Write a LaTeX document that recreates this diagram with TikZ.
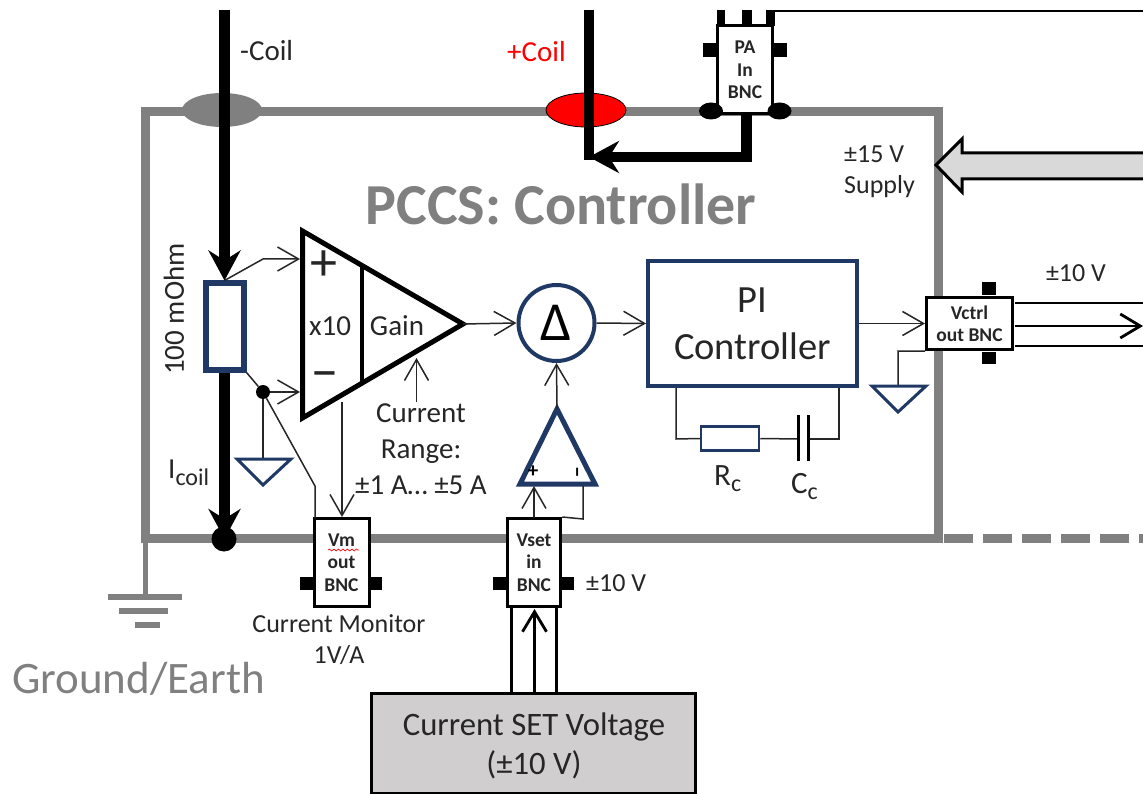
\documentclass[tikz,border=0pt]{standalone}
\usepackage{fontspec}
\setmainfont{Carlito}
\usetikzlibrary{arrows.meta, positioning, calc, shapes.geometric, decorations.pathmorphing}
\definecolor{framegray}{RGB}{128, 128, 128}
\definecolor{navyline}{RGB}{31, 56, 100}
\definecolor{txtdark}{RGB}{38, 38, 38}
\definecolor{setgray}{RGB}{208, 206, 206}
\definecolor{supplygray}{RGB}{217, 217, 217}
\newcommand{\fsz}[2]{\fontsize{#1}{#2}\selectfont}
\tikzset{
  lbl/.style={inner sep=0pt, text=txtdark, font=\fsz{29}{36}, align=center},
  bncbox/.style={draw=black, fill=white, line width=3pt, inner sep=0pt, text=txtdark, align=center, font=\fsz{19.5}{22.5}\bfseries},
  bnctab/.style={fill=black, inner sep=0pt},
  sensewire/.style={line width=1.5pt, draw=txtdark},
  sensearrow/.style={sensewire, -{Straight Barb[length=21pt,width=24pt]}},
  coilwire/.style={line width=10.5pt, draw=black},
  coilarrow/.style={coilwire, -{Stealth[length=30pt,width=32pt,inset=10pt]}},
  bncline/.style={line width=2.8pt, draw=black},
  navybox/.style={draw=navyline, fill=white, inner sep=0pt},
  gndtri/.style={draw=navyline, line width=3pt, fill=white, miter limit=20},
  dot/.style={circle, fill=black, inner sep=0pt},
}
\begin{document}
\begin{tikzpicture}[x=1pt, y=-1pt]
  \useasboundingbox (0,0) rectangle (1143,794);

  % Frame and earth
  \node[draw=framegray, line width=9pt, minimum width=792.5pt, minimum height=427pt, inner sep=0pt] (frame) at (541.75,325) {};
  \coordinate (dashA) at (944,538.5);
  \coordinate (dashB) at (1143,538.5);
  \draw[draw=framegray, line width=9pt, dash pattern=on 29pt off 10pt] (dashA) -- (dashB);
  \coordinate (earthA) at (145.5,540);
  \coordinate (earthB) at (145.5,597);
  \draw[draw=framegray, line width=5pt] (earthA) -- (earthB);
  \node[fill=framegray, minimum width=74pt, minimum height=6pt, inner sep=0pt] (earth1) at (145,597) {};
  \node[fill=framegray, minimum width=49pt, minimum height=6pt, inner sep=0pt] (earth2) at (143.5,611) {};
  \node[fill=framegray, minimum width=25pt, minimum height=6pt, inner sep=0pt] (earth3) at (147,625) {};
  \node[lbl, text=framegray, font=\fsz{45}{50}] (earthlbl) at (138.5,679) {Ground/Earth};

  % Title
  \node[lbl, text=framegray, font=\fsz{58}{64}\bfseries] (title) at (561,204) {PCCS: Controller};

  % Coil feedthroughs
  \node[ellipse, fill=framegray, minimum width=80pt, minimum height=34pt, inner sep=0pt] (feedneg) at (222,110) {};
  \node[ellipse, draw=black, line width=.8pt, fill=red, minimum width=80pt, minimum height=34pt, inner sep=0pt] (feedpos) at (586,110) {};
  \node[lbl, anchor=west] (coilneg) at (240,51) {-Coil};
  \node[lbl, anchor=west, text=red] (coilpos) at (507,52) {+Coil};

  % Shunt and -Coil wire
  \node[navybox, line width=6pt, minimum width=38pt, minimum height=86pt] (shunt) at (224.5,326.5) {};
  \node[lbl, rotate=90] (shuntlbl) at (174,309) {100 mOhm};
  \coordinate (negtop) at (224.5,10);
  \coordinate (negbot) at (224.5,539);
  \draw[coilarrow] (negtop) -- (shunt.north);
  \draw[coilarrow] (shunt.south) -- (negbot);
  \node[dot, minimum size=25pt] (gnddot) at (224,539) {};
  \node[lbl, anchor=base west] (icoil) at (168,478) {I\raisebox{-7.5pt}{\fsz{24}{24}coil}};

  % PA input
  \node[bncbox, minimum width=55pt, minimum height=88pt] (pabox) at (745,70) {PA\\In\\BNC};
  \node[bnctab, minimum width=13pt, minimum height=14pt, anchor=east] (patabL) at (pabox.west |- 0,50) {};
  \node[bnctab, minimum width=13pt, minimum height=14pt, anchor=west] (patabR) at (pabox.east |- 0,50) {};
  \node[bnctab, minimum width=8pt, minimum height=16pt] (patop1) at (721,18) {};
  \node[bnctab, minimum width=10pt, minimum height=16pt] (patop2) at (747,18) {};
  \node[bnctab, minimum width=9pt, minimum height=16pt] (patop3) at (770.5,18) {};
  \node[ellipse, fill=black, minimum width=24pt, minimum height=17pt, inner sep=0pt] (padotL) at (711,111) {};
  \node[ellipse, fill=black, minimum width=24pt, minimum height=17pt, inner sep=0pt] (padotR) at (779.5,111) {};
  \coordinate (patopR) at (772,11);
  \coordinate (paright) at (1143,11);
  \draw[line width=1.8pt] (patopR) -- (paright);

  % +Coil wire
  \coordinate (postop) at (589,10);
  \coordinate (posend) at (589,160);
  \coordinate (posjoin) at (589,157);
  \coordinate (pacorner) at (746.5,157);
  \coordinate (pafoot) at (746.5,115);
  \coordinate (pabend) at (746.5,162);
  \draw[coilwire] (postop) -- (posend);
  \draw[coilwire] (pafoot) -- (pabend);
  \draw[coilarrow] (pacorner) -- (posjoin);

  % Supply arrow
  \coordinate (suptip) at (936,165);
  \draw[line width=3pt, fill=supplygray, miter limit=10] (1143,153) -- (962,153) -- (962,139) -- (suptip) -- (962,192) -- (962,179) -- (1143,179);
  \node[lbl, anchor=west, align=left, font=\fsz{26}{31}] (suplbl) at (844,172) {±15 V\\Supply};

  % Current amplifier
  \coordinate (ampA) at (302.5,231);
  \coordinate (ampB) at (302.5,418);
  \coordinate (amptip) at (463,324);
  \draw[line width=5pt, fill=white, line join=miter] (ampA) -- (amptip) -- (ampB) -- cycle;
  \coordinate (ampdivA) at (362,264);
  \coordinate (ampdivB) at (362,385);
  \draw[line width=3.5pt] (ampdivA) -- (ampdivB);
  \node[lbl, font=\fsz{54}{54}] (ampplus) at (323.5,266) {+};
  \node[lbl, font=\fsz{54}{54}] (ampminus) at (325,381) {−};
  \node[lbl] (ampx) at (330,326) {x10};
  \node[lbl] (ampgain) at (397,326) {Gain};
  \coordinate (ampinP) at (300,259);
  \coordinate (ampinN) at (300,392);
  \coordinate (kneeP) at (263,259);
  \coordinate (ampfoot) at (342,402);
  \coordinate (rngA) at (416.5,402);
  \coordinate (rngB) at (416.5,358);
  \node[lbl] (rnglbl) at (421,449) {Current\\Range:\\±1 A… ±5 A};
  \draw[sensearrow] (rngA) -- (rngB);

  % Sense taps
  \node[dot, minimum size=14pt] (tap) at (263,392) {};
  \draw[sensearrow] (shunt.north) -- (kneeP) -- (ampinP);
  \draw[sensewire] (shunt.south east) -- (tap);
  \draw[sensearrow] (tap) -- (ampinN);
  \coordinate (gndA) at (263,459);
  \coordinate (gndL) at (237,459);
  \coordinate (gndR) at (291,459);
  \coordinate (gndT) at (263,485);
  \draw[sensewire] (tap) -- (gndA);
  \draw[gndtri] (gndL) -- (gndR) -- (gndT) -- cycle;

  % Vm BNC
  \node[bncbox, minimum width=55pt, minimum height=88pt] (vmbox) at (341.5,562.5) {Vm\\out\\BNC};
  \node[bnctab, minimum width=13pt, minimum height=13pt, anchor=east] (vmtabL) at (313,583.5) {};
  \node[bnctab, minimum width=12pt, minimum height=13pt, anchor=west] (vmtabR) at (370,583.5) {};
  \coordinate (sqA) at (328,550);
  \coordinate (sqB) at (359,550);
  \draw[red, line width=.7pt, decorate, decoration={snake, amplitude=.9pt, segment length=4.5pt}] (sqA) -- (sqB);
  \coordinate (vmknee) at (315,486);
  \coordinate (vmin) at (315,518);
  \coordinate (vmtop) at (342,517);
  \draw[sensewire] (tap) -- (vmknee) -- (vmin);
  \draw[sensearrow] (ampfoot) -- (vmtop);
  \node[lbl, font=\fsz{26}{31}] (monlbl) at (339,640) {Current Monitor\\1V/A};

  % Delta and buffer
  \node[circle, navybox, line width=4pt, minimum size=76pt] (delta) at (556.5,323) {\fsz{55}{55}Δ};
  \draw[sensearrow] (amptip) -- (delta.west);
  \coordinate (bufA) at (557,409);
  \coordinate (bufL) at (520,484);
  \coordinate (bufR) at (595,484);
  \draw[navyline, line width=5pt, fill=white, line join=miter] (bufA) -- (bufR) -- (bufL) -- cycle;
  \draw[sensearrow] (bufA) -- (delta.south);
  \node[lbl, text=black, font=\fsz{21}{21}\bfseries] (bufplus) at (533,472) {+};
  \node[lbl, text=black, rotate=90, font=\fsz{21}{21}\bfseries] (bufminus) at (580,472) {−};

  % Vset BNC
  \node[bncbox, minimum width=53.5pt, minimum height=88pt] (vsetbox) at (534,562.5) {Vset\\in\\BNC};
  \node[bnctab, minimum width=13pt, minimum height=13pt, anchor=east] (vsettabL) at (506,583.5) {};
  \node[bnctab, minimum width=12pt, minimum height=13pt, anchor=west] (vsettabR) at (562,583.5) {};
  \node[lbl, anchor=west, font=\fsz{26}{31}] (vsetlbl) at (586,583) {±10 V};
  \coordinate (vsettopL) at (534,518);
  \coordinate (bufinP) at (534,486);
  \coordinate (vsetR) at (583,519);
  \coordinate (bufinN) at (583,486);
  \draw[sensearrow] (vsettopL) -- (bufinP);
  \draw[sensewire] (vsetbox.north east) -- (vsetR) -- (bufinN);

  % Current SET source
  \node[draw=black, fill=setgray, line width=3pt, minimum width=324pt, minimum height=100pt, inner sep=0pt, anchor=north west] (setbox) at (370,692) {};
  \node[lbl, font=\fsz{32.7}{39}] (setlbl) at (534,745.5) {Current SET Voltage\\(±10 V)};
  \coordinate (setL) at (511.5,693);
  \coordinate (setM) at (534.5,693);
  \coordinate (setR) at (556.5,693);
  \coordinate (vsetL) at (511.5,608);
  \coordinate (vsetM) at (534.5,609);
  \coordinate (vsetB) at (556.5,608);
  \draw[bncline] (setL) -- (vsetL);
  \draw[bncline] (setR) -- (vsetB);
  \draw[bncline, -{Straight Barb[length=20pt,width=24pt]}] (setM) -- (vsetM);

  % PI controller
  \node[navybox, line width=4pt, minimum width=209pt, minimum height=124.5pt, font=\fsz{38.5}{47}, text=txtdark, align=center] (pi) at (752.5,323.5) {PI\\Controller};
  \draw[sensearrow] (delta.east) -- (pi.west);
  \node[navybox, line width=2.5pt, minimum width=58pt, minimum height=24pt] (rc) at (730,438.5) {};
  \node[lbl, anchor=base west, font=\fsz{31}{36}] (rclbl) at (714,485) {R\raisebox{-6pt}{\fsz{24}{24}c}};
  \coordinate (fbL) at (676,388);
  \coordinate (fbLb) at (676,439);
  \coordinate (capA) at (798.5,439);
  \coordinate (capB) at (808,439);
  \coordinate (fbRb) at (839,439);
  \coordinate (fbR) at (839,388);
  \draw[sensewire] (fbL) -- (fbLb) -- (rc.west);
  \draw[sensewire] (rc.east) -- (capA);
  \draw[sensewire] (capB) -- (fbRb) -- (fbR);
  \node[fill=black, minimum width=3pt, minimum height=46pt, inner sep=0pt] (plateA) at (798.5,438) {};
  \node[fill=black, minimum width=3pt, minimum height=46pt, inner sep=0pt] (plateB) at (808,438) {};
  \node[lbl, anchor=base west, font=\fsz{31}{36}] (cclbl) at (791,493) {C\raisebox{-6pt}{\fsz{24}{24}c}};

  % Vctrl BNC
  \node[bncbox, minimum width=86pt, minimum height=52.5pt] (vctrl) at (969.5,323.5) {Vctrl\\out BNC};
  \node[bnctab, minimum width=14pt, minimum height=13pt, anchor=south] (vctabT) at (989,295) {};
  \node[bnctab, minimum width=14pt, minimum height=12pt, anchor=north] (vctabB) at (989,352) {};
  \draw[sensearrow] (pi.east) -- (vctrl.west);
  \coordinate (outT) at (1143,303);
  \coordinate (outM) at (1143,326);
  \coordinate (outB) at (1143,346);
  \coordinate (outTs) at (1015,303);
  \coordinate (outMs) at (1015,326);
  \coordinate (outBs) at (1015,346);
  \draw[bncline] (outTs) -- (outT);
  \draw[bncline] (outBs) -- (outB);
  \draw[bncline, -{Straight Barb[length=20pt,width=24pt]}] (outMs) -- (outM);
  \node[lbl, font=\fsz{26}{31}] (outlbl) at (1076,273) {±10 V};
  \coordinate (vgndK) at (898,351);
  \coordinate (vgndA) at (898,386);
  \coordinate (vgndL) at (872,386);
  \coordinate (vgndR) at (926,386);
  \coordinate (vgndT) at (898,412);
  \draw[sensewire] (vctrl.south west) -- (vgndK) -- (vgndA);
  \draw[gndtri] (vgndL) -- (vgndR) -- (vgndT) -- cycle;
\end{tikzpicture}
\end{document}
